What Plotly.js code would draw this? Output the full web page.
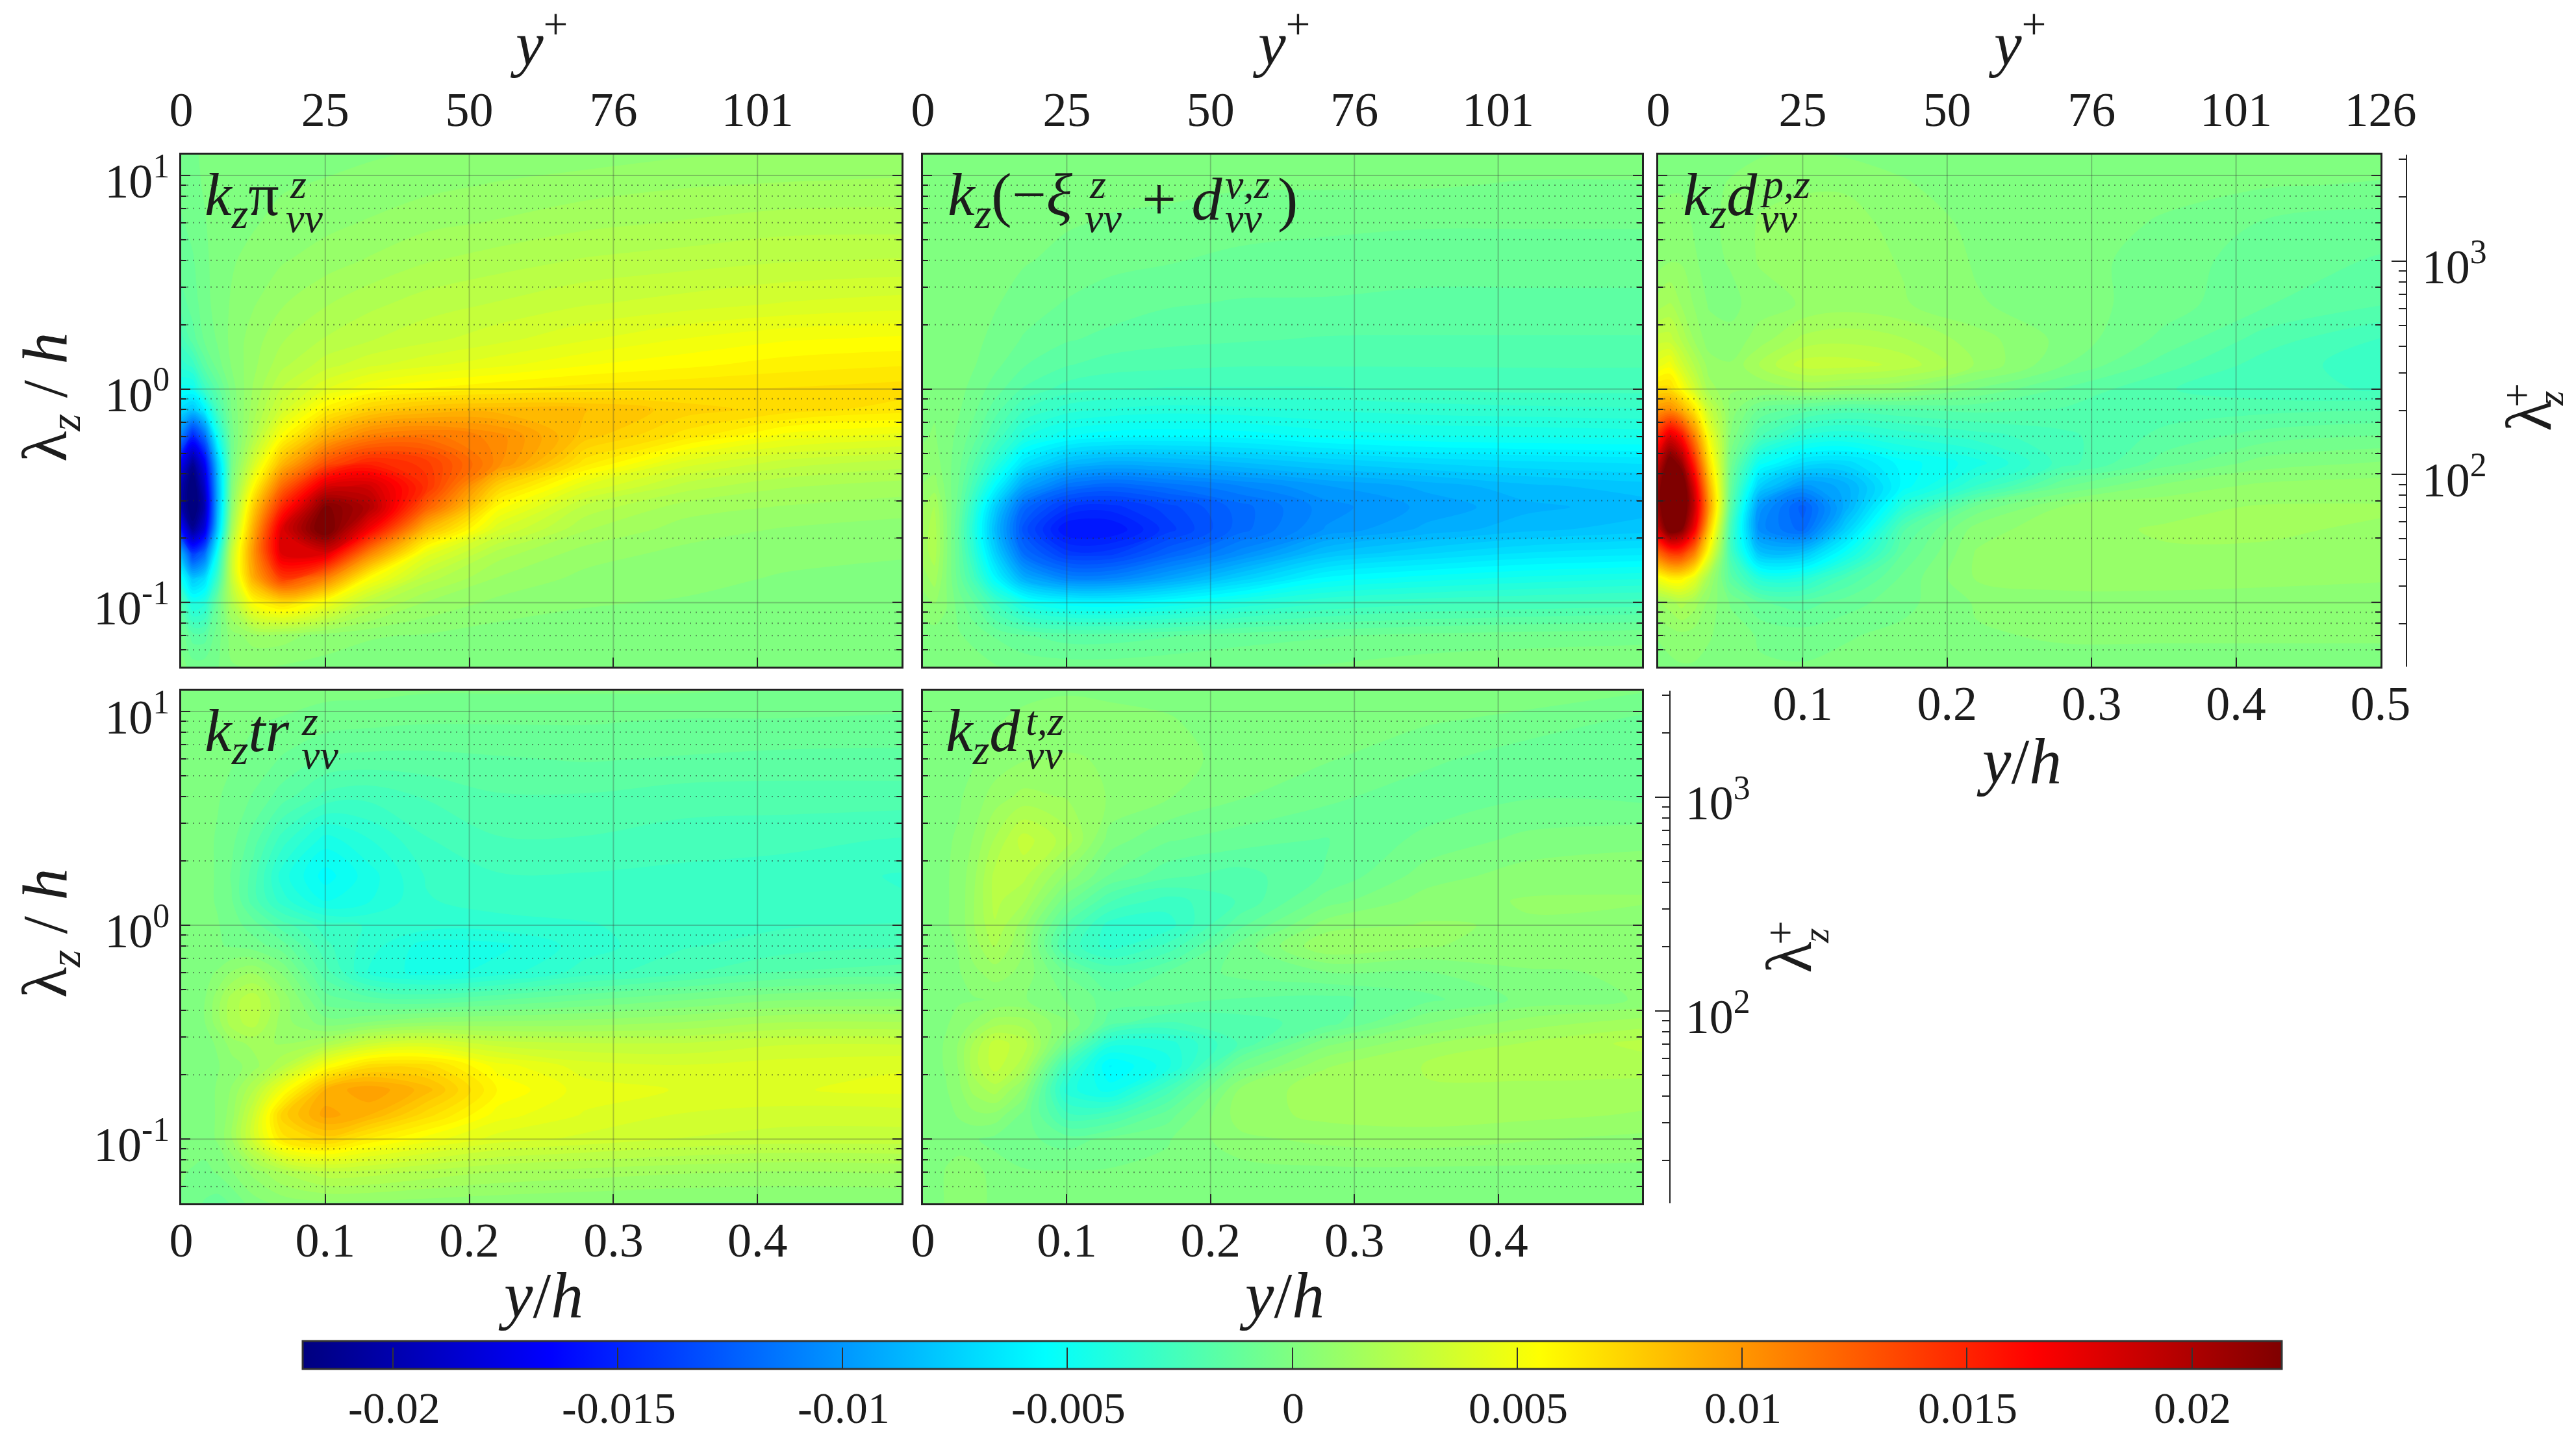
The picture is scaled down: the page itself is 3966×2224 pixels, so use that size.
<!DOCTYPE html>
<html>
<head>
<meta charset="utf-8">
<script src="https://cdn.plot.ly/plotly-3.0.1.min.js"></script>
<style>html,body{margin:0;padding:0;background:#fff;}</style>
</head>
<body>
<div id="chart" style="width:3966px;height:2224px;"></div>
<script>
// wall distance y/h and spanwise wavelength lambda_z/h of the estimated grid
const yh = [0, 0.008, 0.016, 0.025, 0.035, 0.05, 0.07, 0.1, 0.13, 0.17, 0.22, 0.28, 0.35, 0.42, 0.5];
const lambdaZ = [0.05, 0.07, 0.1, 0.13, 0.17, 0.22, 0.28, 0.35, 0.45, 0.6, 0.8, 1, 1.3, 1.7, 2.5, 4, 6, 9, 12.5];

// values, in units of 1e-3, one row per lambdaZ entry
const production = [
  [0,-.5,-.5,-.3,.2,.3,.2,.1,0,0,0,0,0,0,0],
  [-.5,-1.5,-1.5,-.5,.5,1,1,.5,.3,.2,0,0,0,0,0],
  [-2,-4.5,-4,-1,2,5.5,7,5,2.5,1.2,.6,.3,.2,.1,0],
  [-5,-8,-7,-3,3,9,14,11,5.5,2.5,1.2,.6,.4,.2,.1],
  [-9,-14,-12,-5,3,10,18,18,11,4.5,2,1,.6,.4,.3],
  [-16,-21,-18,-8,1.5,9,18,23,17,8.5,3.8,1.8,1,.7,.5],
  [-20,-23,-20,-9,.5,7.5,15,22,20,12.5,5.5,2.6,1.5,1.2,1],
  [-20,-23,-19,-9,0,5.5,12,18,18.5,14.5,7.5,4.2,2.5,1.8,1.5],
  [-17,-21,-17,-8,-.5,3.5,8.5,13,15,14,10.5,6.5,4,3,2.5],
  [-11,-15,-12,-5,-.5,2,5.5,9,11,11.5,10.5,8,6.5,5,4.5],
  [-7,-8,-6,-2.5,-.2,1.5,3.5,6,7.5,8.3,8.5,8.3,7.5,7,6.5],
  [-5,-5,-3,-1.5,0,1.3,2.8,4.2,5.2,5.8,6.2,6.5,6.7,6.8,7],
  [-3.5,-3,-1.5,-.5,.3,1.1,2.1,3,3.6,4.1,4.6,5.2,5.6,6,6.2],
  [-2.5,-1.5,-.7,-.2,.4,1,1.7,2.3,2.7,3.1,3.6,4.2,4.8,5.2,5.4],
  [-1.5,-1,-.5,0,.3,.7,1.2,1.7,2.1,2.5,2.8,3.2,3.5,3.8,4],
  [-1,-.8,-.4,0,.2,.4,.7,1,1.3,1.7,2,2.3,2.5,2.7,2.8],
  [-.8,-.6,-.3,0,.1,.2,.4,.6,.8,1.1,1.3,1.6,1.8,2,2],
  [-.6,-.4,-.2,0,0,.1,.2,.3,.4,.6,.8,1,1.2,1.3,1.4],
  [-.5,-.3,-.2,-.1,0,0,0,.1,.2,.3,.4,.5,.7,.8,.8]
];
const dissipation = [
  [0,0,0,0,0,-.2,-.4,-.5,-.5,-.4,-.3,-.2,0,.1,.1],
  [0,0,.1,-.2,-.4,-.8,-1.2,-1.5,-1.5,-1.3,-1,-.8,-.6,-.5,-.4],
  [.5,.8,.3,-.5,-1.2,-2.8,-4.6,-5.6,-5.8,-5.2,-4.2,-3.3,-2.9,-2.7,-2.5],
  [1,1.5,.3,-1,-2.5,-5.6,-9,-10.8,-10.8,-9.5,-7.6,-5.6,-5,-4.6,-4.3],
  [1.5,2,.4,-1.2,-3.5,-7.4,-11.8,-14,-14,-12.3,-10.5,-8.2,-7.3,-6.7,-6.4],
  [1.5,2,.4,-1.3,-4,-8.4,-13,-15.8,-15.8,-14,-12,-10.2,-9.1,-8.4,-8],
  [1.2,1.8,.3,-1,-3.5,-7.6,-12,-14.2,-14.5,-13.5,-12,-10.5,-9.6,-8.9,-8.5],
  [.8,1,.1,-.8,-2.5,-5.6,-9.4,-11.6,-12.2,-11.6,-10.8,-9.8,-9.1,-8.4,-8],
  [.4,.5,0,-.6,-1.7,-3.7,-6.6,-8.4,-9,-8.8,-8.3,-7.7,-7.2,-6.9,-6.7],
  [.2,.3,0,-.4,-1,-2.3,-4.1,-5.2,-5.6,-5.7,-5.6,-5.1,-4.8,-4.7,-4.6],
  [.2,.2,0,-.2,-.6,-1.5,-2.7,-3.5,-3.8,-4,-3.9,-3.7,-3.5,-3.4,-3.3],
  [.2,.2,0,-.1,-.4,-1,-1.8,-2.5,-2.7,-2.8,-2.8,-2.8,-2.7,-2.6,-2.6],
  [.2,.2,0,0,-.2,-.6,-1.2,-1.7,-2,-2.1,-2.2,-2.2,-2.2,-2.2,-2.2],
  [.2,.2,.1,0,-.1,-.4,-.8,-1.2,-1.4,-1.6,-1.7,-1.8,-1.8,-1.8,-1.8],
  [.2,.2,.1,0,-.1,-.2,-.5,-.8,-1,-1.2,-1.3,-1.3,-1.4,-1.4,-1.4],
  [.2,.2,.1,0,0,-.1,-.2,-.4,-.6,-.7,-.9,-1,-1,-1,-1],
  [.2,.2,.1,0,0,0,-.1,-.2,-.3,-.4,-.5,-.6,-.7,-.7,-.7],
  [.2,.1,.1,0,0,0,0,0,-.1,-.1,-.2,-.2,-.2,-.3,-.3],
  [.1,.1,.1,0,0,0,0,0,0,0,0,0,0,0,0]
];
const pressureDiff = [
  [0,.1,.2,.2,.1,0,-.2,-.2,-.1,0,.1,.1,.1,.1,.1],
  [.3,.5,.6,.5,.3,0,-.3,-.5,-.3,-.1,.2,.3,.3,.3,.3],
  [1.2,1.5,2,1.5,.6,-.3,-1.2,-1.5,-1,-.4,.3,.5,.5,.5,.5],
  [5,6,6,4.5,1.5,-1.5,-4,-4,-2.2,-.6,.8,1,1,.9,.8],
  [12,14,14,11,5,-2.5,-8,-8,-5,-1.2,.8,1.1,1.2,1.2,1],
  [19,23,22,17,8,-2.5,-10.5,-12,-7.5,-1.8,.5,1.1,1.3,1.3,1.2],
  [21,25,24,19,10,-1.5,-10,-12.5,-9,-3.8,-.6,.8,1.1,1.3,1.3],
  [21,25,24,18,9,-1,-7.5,-10,-9,-5.5,-3.2,-.8,.4,.9,1],
  [19,23,21,15,7,-.5,-5,-6.8,-7,-5.5,-4.5,-2.5,-1,0,.3],
  [15,18,16,11,5,.2,-2.2,-3.8,-4.2,-3.6,-3,-2.4,-1.6,-1,-.7],
  [10,10.5,9,6.5,3,.6,-.8,-1.5,-2,-1.8,-1.6,-1.8,-2,-1.9,-1.8],
  [7,7,5.5,3.5,1.5,.8,.8,1.2,1,.7,-.3,-1.3,-2.2,-2.6,-2.8],
  [4.5,5,3.5,2.2,1,.8,1.8,3,3,2.6,1.2,-.2,-1.5,-2.5,-3],
  [3,3,2.2,1.2,.5,.4,1,1.9,2.1,1.8,1,.1,-.9,-2,-2.8],
  [1.5,1.8,1.2,.7,.2,.1,.5,.8,1,.8,.3,0,-.5,-1.2,-1.7],
  [.5,.7,.7,.3,.1,.3,.8,.9,1,.7,.2,0,-.5,-1,-1.3],
  [.3,.4,.4,.2,.1,.4,.8,.9,.9,.6,.1,0,-.3,-.8,-1],
  [.2,.2,.2,.1,.1,.3,.6,.7,.7,.3,0,0,-.1,-.2,-.3],
  [.1,.1,.1,.1,.1,.1,.2,.3,.2,.1,0,0,0,0,0]
];
const transfer = [
  [-.3,-.5,-.8,-1,-.7,0,.4,.6,.6,.5,.4,.3,.2,.2,.2],
  [-.2,-.3,-.4,-.2,.2,.9,1.8,2.6,2.5,2.1,1.7,1.5,1.3,1.2,1.3],
  [0,0,0,.3,1.2,3.5,6.5,7.5,6.2,5,4,3.6,3.2,3,3],
  [0,0,0,.3,1,3.3,7.5,9.5,8.8,7,5,4.2,3.7,3.5,3.5],
  [0,0,0,.3,.8,2.2,5,8.8,9.7,8.5,5.7,4.5,4.2,4.2,4.4],
  [0,0,.1,.2,.5,1,2.2,5.2,7,7,5,4,3.8,4,4.2],
  [0,0,.1,.3,1,1.4,1.2,1.8,3.2,3.8,3,2.8,2.8,3.2,3.2],
  [0,.1,.2,1,2,2.5,1,0,.3,.8,.9,1,1.3,1.8,1.8],
  [0,.1,.2,1,2,2.6,1.1,-1,-1.5,-1.7,-1.3,-.8,-.3,.2,.3],
  [0,.1,.1,.3,.8,1.2,.2,-2,-3.8,-4.5,-4,-3,-2.3,-1.7,-1.5],
  [0,0,-.1,-.2,-.3,-.5,-1,-2.6,-3.5,-4.5,-4.4,-3.5,-2.8,-2.5,-2.3],
  [0,0,-.1,-.2,-.5,-1,-2,-3,-3.3,-3.5,-3.5,-3.3,-3,-2.8,-2.7],
  [0,0,-.1,-.3,-.7,-2,-3.5,-4.8,-4.3,-3.3,-3,-3,-3,-3,-3.2],
  [0,0,-.1,-.3,-.8,-2,-4,-5.5,-4.5,-3.2,-2.8,-2.8,-2.9,-3,-3.3],
  [0,0,-.1,-.3,-.6,-1.5,-3,-4.5,-3.8,-2.8,-2.3,-2.3,-2.5,-2.6,-2.8],
  [0,0,-.1,-.2,-.4,-.8,-1.5,-2.4,-2.6,-2.2,-1.8,-1.8,-2,-2,-2],
  [0,0,0,-.1,-.2,-.4,-.8,-1.3,-1.4,-1.4,-1.3,-1.2,-1.3,-1.4,-1.4],
  [0,0,0,0,-.1,-.2,-.3,-.5,-.6,-.7,-.7,-.7,-.8,-.8,-.9],
  [0,0,0,0,0,0,0,-.1,-.1,-.2,-.2,-.2,-.2,-.3,-.3]
];
const turbDiff = [
  [0,0,.3,.5,.5,.1,0,0,0,0,0,0,0,0,0],
  [0,0,.3,.5,.5,0,-.2,-.2,-.2,-.1,0,.1,.1,.1,.1],
  [0,0,0,0,-.2,-.4,-.6,-1,-.6,-.3,.6,.9,1,.8,.6],
  [0,0,.1,.3,.6,.6,-.4,-2.6,-2.4,-1,1,1.4,1.5,1.4,1.2],
  [0,.1,.2,.6,1.4,2,.6,-4,-5,-2.5,.8,1.6,1.7,1.6,1.5],
  [0,.1,.3,.8,2,3,2,-2.8,-5.8,-4.5,-.6,1.2,1.8,2,2],
  [0,.1,.3,.8,1.8,3,2.5,-.6,-4,-4,-2.2,.1,1.2,1.8,2.4],
  [0,.1,.2,.4,.8,1.5,1.5,.3,-1.5,-2.3,-2,-1.5,.2,1,1.5],
  [0,.1,.2,.2,.2,.3,.3,-.3,-1,-.9,-1.3,-1.4,-.9,-.1,.3],
  [0,.1,.1,.2,.6,1,.6,-.8,-1.8,-1.2,-.6,-.3,-.3,.2,.3],
  [0,.1,.1,.3,1,1.8,.8,-2.4,-3.5,-2.6,-.6,1.2,.8,.5,.3],
  [0,.1,.2,.4,1.2,2.2,1,-1.8,-3.5,-3.5,-1.4,.5,.8,.7,.5],
  [0,.1,.2,.4,1.2,2.4,1.8,-.6,-2.2,-3,-2.2,-.5,.5,.8,.8],
  [0,.1,.2,.4,1.1,2.4,2.4,.6,-.8,-1.6,-2,-1.2,0,.5,.6],
  [0,.1,.2,.3,.8,1.8,3,2,0,-.7,-1,-1.3,-.6,-.1,.1],
  [0,0,.1,.2,.4,1,1.4,1.2,.7,.3,-.2,-.6,-1.1,-.8,-.9],
  [0,0,0,.1,.2,.4,.7,.8,.7,.5,0,-.2,-.6,-1.1,-1.2],
  [0,0,0,.1,.1,.2,.4,.5,.5,.3,0,0,-.2,-.4,-.9],
  [0,0,0,0,0,0,.1,.2,.1,.1,0,0,0,0,-.2]
];

const majorLambda = [0.1, 1, 10];
const minorLambda = [0.06, 0.07, 0.08, 0.09, 0.2, 0.3, 0.4, 0.5, 0.6, 0.7, 0.8, 0.9, 2, 3, 4, 5, 6, 7, 8, 9];
const majorLambdaPlus = [100, 1000];
const minorLambdaPlus = [20, 30, 40, 50, 60, 70, 80, 90, 200, 300, 400, 500, 600, 700, 800, 900, 2000, 3000];
const gridYh = [0.1, 0.2, 0.3, 0.4];
const yPlusVals = [0, 0.1, 0.2, 0.3, 0.4, 0.5];
const yPlusText = ['0', '25', '50', '76', '101', '126'];
const cbarVals = [-0.02, -0.015, -0.01, -0.005, 0, 0.005, 0.01, 0.015, 0.02];
const cbarText = ['-0.02', '-0.015', '-0.01', '-0.005', '0', '0.005', '0.01', '0.015', '0.02'];

const W = 3966, H = 2224;
const SERIF = '"Liberation Serif", serif';
const INK = '#1c1c1c';
const px = function(v) { return v / W; };
const py = function(v) { return 1 - v / H; };

const jet = [
  [0, 'rgb(0,0,127)'], [0.125, 'rgb(0,0,255)'], [0.375, 'rgb(0,255,255)'], [0.5, 'rgb(128,255,128)'],
  [0.625, 'rgb(255,255,0)'], [0.875, 'rgb(255,0,0)'], [1, 'rgb(127,0,0)']
];

// panels, pixel boxes measured on the reference
const panels = [
  { z: production,   box: [279, 1388, 238, 1026] },
  { z: dissipation,  box: [1421, 2528, 238, 1026] },
  { z: pressureDiff, box: [2553, 3665, 238, 1026] },
  { z: transfer,     box: [279, 1388, 1063, 1852] },
  { z: turbDiff,     box: [1421, 2528, 1063, 1852] }
];

const LOG_BOTTOM = -1.30, LOG_TOP = 1.097, LOG_RE = 2.401;
const tickFont = { family: SERIF, size: 74, color: INK };

const layout = {
  width: W, height: H,
  margin: { l: 0, r: 0, t: 0, b: 0, autoexpand: false },
  paper_bgcolor: '#fff', plot_bgcolor: '#fff',
  showlegend: false,
  font: { family: SERIF, color: INK },
  shapes: [],
  annotations: []
};

// the colour bar hangs off a one-cell heatmap under the first panel so it stays a smooth gradient
const traces = [{
  type: 'heatmap', x: [0.25], y: [1], z: [[0]], xaxis: 'x', yaxis: 'y',
  colorscale: jet, zmin: -0.022, zmax: 0.022, hoverinfo: 'skip',
  colorbar: {
    orientation: 'h', x: px(466), xanchor: 'left', y: py(2064), yanchor: 'top',
    xpad: 0, ypad: 0,
    lenmode: 'pixels', len: 3047, thicknessmode: 'pixels', thickness: 43,
    outlinewidth: 3, outlinecolor: '#333', borderwidth: 0,
    tickmode: 'array', tickvals: cbarVals, ticktext: cbarText, showticklabels: false,
    ticks: 'inside', ticklen: 34, tickwidth: 2, tickcolor: '#333'
  }
}];

panels.forEach(function(p, i) {
  const n = i + 1;
  const xName = n === 1 ? 'x' : 'x' + n;
  const yName = n === 1 ? 'y' : 'y' + n;

  traces.push({
    type: 'contour',
    x: yh, y: lambdaZ,
    z: p.z.map(function(row) { return row.map(function(v) { return v / 1000; }); }),
    xaxis: xName, yaxis: yName,
    colorscale: jet, zmin: -0.022, zmax: 0.022, zauto: false,
    autocontour: false,
    contours: { coloring: 'fill', showlines: false, start: -0.02225, end: 0.02225, size: 0.0005 },
    line: { width: 0, smoothing: 1 },
    hoverinfo: 'skip',
    showscale: false
  });

  const labelled = i >= 2;
  layout['xaxis' + (n === 1 ? '' : n)] = {
    domain: [px(p.box[0]), px(p.box[1])],
    anchor: yName, range: [0, 0.5], showgrid: false, zeroline: false,
    showline: true, linecolor: '#222', linewidth: 3, mirror: true,
    ticks: 'inside', ticklen: 14, tickwidth: 2, tickcolor: '#222',
    tickmode: 'array',
    tickvals: i === 2 ? [0.1, 0.2, 0.3, 0.4, 0.5] : [0, 0.1, 0.2, 0.3, 0.4],
    ticktext: i === 2 ? ['0.1', '0.2', '0.3', '0.4', '0.5'] : ['0', '0.1', '0.2', '0.3', '0.4'],
    showticklabels: labelled,
    ticklabelstandoff: -10,
    tickfont: tickFont
  };
  layout['yaxis' + (n === 1 ? '' : n)] = {
    domain: [py(p.box[3]), py(p.box[2])],
    anchor: xName, type: 'log', range: [LOG_BOTTOM, LOG_TOP],
    showgrid: false, zeroline: false,
    showline: true, linecolor: '#222', linewidth: 3, mirror: 'ticks',
    ticks: 'inside', ticklen: 14, tickwidth: 2, tickcolor: '#222',
    tickmode: 'array', tickvals: majorLambda,
    ticktext: ['10<sup>-1</sup>', '10<sup>0</sup>', '10<sup>1</sup>'],
    showticklabels: i === 0 || i === 3,
    ticklabelshift: 8,
    tickfont: tickFont,
    minor: { tickmode: 'array', tickvals: minorLambda, ticks: 'inside', ticklen: 8, tickwidth: 2, tickcolor: '#222', showgrid: false }
  };

  // grid has to sit above the filled contours, so it goes in as shapes
  gridYh.forEach(function(v) {
    layout.shapes.push({ type: 'line', layer: 'above', xref: xName, yref: yName + ' domain', x0: v, x1: v, y0: 0, y1: 1,
      line: { color: 'rgba(60,60,60,0.3)', width: 2 } });
  });
  majorLambda.forEach(function(v) {
    layout.shapes.push({ type: 'line', layer: 'above', xref: xName + ' domain', yref: yName, x0: 0, x1: 1, y0: v, y1: v,
      line: { color: 'rgba(60,60,60,0.3)', width: 2 } });
  });
  minorLambda.forEach(function(v) {
    layout.shapes.push({ type: 'line', layer: 'above', xref: xName + ' domain', yref: yName, x0: 0, x1: 1, y0: v, y1: v,
      line: { color: 'rgba(40,40,40,0.5)', width: 2, dash: '2px,7px' } });
  });
});

// y+ axes along the top of the first row
[0, 1, 2].forEach(function(i) {
  const n = 6 + i;
  const base = i === 0 ? 'x' : 'x' + (i + 1);
  const yName = i === 0 ? 'y' : 'y' + (i + 1);
  const last = i === 2 ? 6 : 5;
  traces.push({ type: 'scatter', mode: 'none', x: [0], y: [1], xaxis: 'x' + n, yaxis: yName, hoverinfo: 'skip' });
  layout['xaxis' + n] = {
    overlaying: base, side: 'top', anchor: yName, range: [0, 0.5],
    showgrid: false, zeroline: false, showline: false, ticks: '',
    tickmode: 'array', tickvals: yPlusVals.slice(0, last), ticktext: yPlusText.slice(0, last),
    ticklabelstandoff: 28,
    tickfont: tickFont
  };
});

// lambda_z^+ axes standing free to the right of panels 3 and 5
[[3, 'y6', 3705], [5, 'y7', 2571]].forEach(function(a) {
  traces.push({ type: 'scatter', mode: 'none', x: [0], y: [100], xaxis: 'x' + a[0], yaxis: a[1], hoverinfo: 'skip' });
  layout['yaxis' + a[1].slice(1)] = {
    overlaying: 'y' + a[0], side: 'right', anchor: 'free', position: px(a[2]),
    type: 'log', range: [LOG_BOTTOM + LOG_RE, LOG_TOP + LOG_RE],
    showgrid: false, zeroline: false, showline: true, linecolor: '#222', linewidth: 2,
    ticks: 'inside', ticklen: 22, tickwidth: 2, tickcolor: '#222',
    tickmode: 'array', tickvals: majorLambdaPlus, ticktext: ['10<sup>2</sup>', '10<sup>3</sup>'],
    ticklabelstandoff: 8, ticklabelshift: 8,
    tickfont: tickFont,
    minor: { tickmode: 'array', tickvals: minorLambdaPlus, ticks: 'inside', ticklen: 11, tickwidth: 2, tickcolor: '#222', showgrid: false }
  };
});

function note(text, x, y, size, extra) {
  layout.annotations.push(Object.assign({
    text: text, xref: 'paper', yref: 'paper', x: px(x), y: py(y),
    xanchor: 'center', yanchor: 'middle', showarrow: false,
    font: { family: SERIF, size: size, color: INK }
  }, extra || {}));
}
const left = { xanchor: 'left' };
const up = { textangle: -90 };

// colour bar labels sit further from the bar than the library would put them
cbarVals.forEach(function(v, i) { note(cbarText[i], 1991 + v / 0.005 * 346, 2167, 68); });

// axis titles
[830, 1973, 3106].forEach(function(x) { note('<i>y</i><sup>+</sup>', x, 61, 96); });
note('<i>y</i>/<i>h</i>', 832, 1993, 100);
note('<i>y</i>/<i>h</i>', 1973, 1993, 100);
note('<i>y</i>/<i>h</i>', 3108, 1171, 100);
note('λ<sub><i>z</i></sub> / <i>h</i>', 76, 612, 98, up);
note('λ<sub><i>z</i></sub> / <i>h</i>', 76, 1437, 98, up);
[[3893, 640, 3874, 609, 3926, 613], [2754, 1474, 2740, 1436, 2795, 1440]].forEach(function(c) {
  note('λ', c[0], c[1], 100, up);
  note('+', c[2], c[3], 66, up);
  note('<i>z</i>', c[4], c[5], 58, up);
});

// panel labels, pieces placed by hand because sup and sub have to stack
const MAIN = 94, SMALL = 64;
note('<i>k<sub>z</sub></i>π', 313, 306, MAIN, left);
note('<i>z</i>', 444, 284, SMALL, left);
note('<i>vv</i>', 438, 336, SMALL, left);

note('<i>k<sub>z</sub></i>(−<i>ξ</i>', 1457, 306, MAIN, left);
note('<i>z</i>', 1675, 284, SMALL, left);
note('<i>vv</i>', 1668, 336, SMALL, left);
note('+ <i>d</i>', 1756, 306, MAIN, left);
note('<i>ν,z</i>', 1884, 284, SMALL, left);
note('<i>vv</i>', 1884, 336, SMALL, left);
note(')', 1965, 306, MAIN, left);

note('<i>k<sub>z</sub>d</i>', 2589, 306, MAIN, left);
note('<i>p,z</i>', 2708, 284, SMALL, left);
note('<i>vv</i>', 2708, 336, SMALL, left);

note('<i>k<sub>z</sub>tr</i>', 313, 1131, MAIN, left);
note('<i>z</i>', 462, 1109, SMALL, left);
note('<i>vv</i>', 462, 1161, SMALL, left);

note('<i>k<sub>z</sub>d</i>', 1454, 1131, MAIN, left);
note('<i>t,z</i>', 1577, 1109, SMALL, left);
note('<i>vv</i>', 1577, 1161, SMALL, left);

Plotly.newPlot('chart', traces, layout, { displayModeBar: false, staticPlot: true });
</script>
</body>
</html>
